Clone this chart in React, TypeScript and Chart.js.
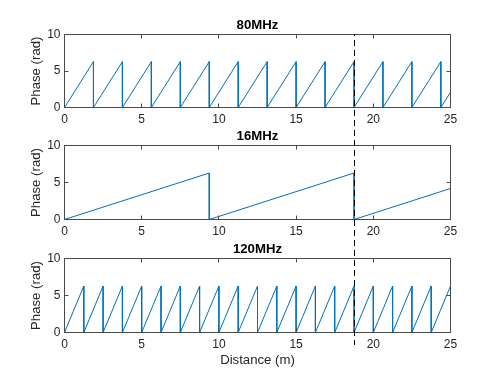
import React, { useEffect, useRef } from "react";
import { Chart, registerables } from "chart.js";

Chart.register(...registerables);

// ---- data ----
const xTicks = [0, 5, 10, 15, 20, 25];
const yTicks = [0, 5, 10];
const xMax = 25;
const peakPhase = 6.28;
const markerDistance = 18.75;

const wraps80 = [1.875, 3.75, 5.625, 7.5, 9.375, 11.25, 13.125, 15, 16.875, 18.75, 20.625, 22.5, 24.375];
const end80 = 2.09;
const wraps16 = [9.375, 18.75];
const end16 = 4.19;
const wraps120 = [1.25, 2.5, 3.75, 5, 6.25, 7.5, 8.75, 10, 11.25, 12.5, 13.75, 15, 16.25, 17.5, 18.75, 20, 21.25, 22.5, 23.75];
const end120 = 6.28;

const titles = ["80MHz", "16MHz", "120MHz"];
const xLabel = "Distance (m)";
const yLabel = "Phase (rad)";

const FONT = '"Liberation Sans", Arial, Helvetica, sans-serif';
const TEXT = "#262626";
const AXIS = "#4a4a4a";
const BLUE = "#0072BD";

function sawtooth(wraps: number[], end: number) {
  const pts: { x: number; y: number }[] = [{ x: 0, y: 0 }];
  wraps.forEach((w) => {
    pts.push({ x: w, y: peakPhase });
    pts.push({ x: w, y: 0 });
  });
  pts.push({ x: xMax, y: end });
  return pts;
}

const panels = [
  { title: titles[0], wraps: wraps80, end: end80, top: 0, height: 127, padTop: 17.66, xHeight: 19.5, showX: false, from: "area", to: 127 },
  { title: titles[1], wraps: wraps16, end: end16, top: 127, height: 112, padTop: 1.66, xHeight: 19.5, showX: false, from: "canvas", to: 112 },
  { title: titles[2], wraps: wraps120, end: end120, top: 239, height: 135, padTop: 2.66, xHeight: 41.5, showX: true, from: "canvas", to: 106 },
];

const matlabAxes = {
  id: "matlabAxes",
  afterDatasetsDraw(chart: any, _args: any, opts: any) {
    const { ctx, chartArea: a, scales } = chart;
    const x = scales.x;
    const y = scales.y;
    const snap = (v: number) => Math.round(v - 0.5) + 0.5;
    const L = 4;
    ctx.save();
    ctx.strokeStyle = AXIS;
    ctx.lineWidth = 1;
    ctx.setLineDash([]);
    ctx.strokeRect(a.left, a.top, a.right - a.left, a.bottom - a.top);
    ctx.beginPath();
    x.ticks.forEach((t: any) => {
      const px = snap(x.getPixelForValue(t.value));
      ctx.moveTo(px, a.bottom);
      ctx.lineTo(px, a.bottom - L);
      ctx.moveTo(px, a.top);
      ctx.lineTo(px, a.top + L);
    });
    y.ticks.forEach((t: any) => {
      const py = snap(y.getPixelForValue(t.value));
      ctx.moveTo(a.left, py);
      ctx.lineTo(a.left + L, py);
      ctx.moveTo(a.right, py);
      ctx.lineTo(a.right - L, py);
    });
    ctx.stroke();

    // dashed marker line
    const mx = snap(x.getPixelForValue(opts.at));
    const y0 = opts.from === "area" ? a.top : 0;
    const y1 = opts.to;
    ctx.beginPath();
    ctx.strokeStyle = "#000";
    ctx.lineWidth = 1;
    ctx.setLineDash([6, 4]);
    ctx.lineDashOffset = opts.offsetTop + y0;
    ctx.moveTo(mx, y0);
    ctx.lineTo(mx, y1);
    ctx.stroke();
    ctx.restore();
  },
};

export default function App() {
  const refs = [useRef<HTMLCanvasElement>(null), useRef<HTMLCanvasElement>(null), useRef<HTMLCanvasElement>(null)];

  useEffect(() => {
    const charts = panels.map((p, i) => {
      const canvas = refs[i].current as HTMLCanvasElement;
      return new Chart(canvas, {
        type: "line",
        data: {
          datasets: [
            {
              data: sawtooth(p.wraps, p.end),
              borderColor: BLUE,
              borderWidth: 1,
              pointRadius: 0,
              tension: 0,
              fill: false,
            },
          ],
        },
        options: {
          responsive: false,
          animation: false,
          devicePixelRatio: 1,
          parsing: false,
          layout: { padding: { left: 0, right: 47.5, top: p.padTop, bottom: 0 } },
          plugins: {
            legend: { display: false },
            tooltip: { enabled: false },
            title: {
              display: true,
              text: p.title,
              fullSize: false,
              color: "#000",
              font: { family: FONT, size: 13.2, weight: "bold" },
              padding: { top: 0, bottom: 1 },
            },
            matlabAxes: { at: markerDistance, from: p.from, to: p.to, offsetTop: p.top },
          } as any,
          scales: {
            x: {
              type: "linear",
              min: 0,
              max: xMax,
              afterBuildTicks: (s: any) => {
                s.ticks = xTicks.map((v) => ({ value: v }));
              },
              grid: { display: false, drawTicks: false },
              border: { display: false },
              ticks: { padding: 4.5, color: TEXT, font: { family: FONT, size: 12 }, maxRotation: 0, autoSkip: false },
              title: {
                display: p.showX,
                text: xLabel,
                color: TEXT,
                font: { family: FONT, size: 13.2 },
                padding: { top: 0, bottom: 6 },
              },
              afterFit: (s: any) => {
                s.height = p.xHeight;
              },
            },
            y: {
              type: "linear",
              min: 0,
              max: 10,
              afterBuildTicks: (s: any) => {
                s.ticks = yTicks.map((v) => ({ value: v }));
              },
              grid: { display: false, drawTicks: false },
              border: { display: false },
              ticks: { padding: 4, color: TEXT, font: { family: FONT, size: 12 } },
              title: {
                display: true,
                text: yLabel,
                color: TEXT,
                font: { family: FONT, size: 13.2 },
                padding: { top: 28, bottom: 0 },
              },
              afterFit: (s: any) => {
                s.width = 64.5;
              },
            },
          },
        },
        plugins: [matlabAxes],
      } as any);
    });
    return () => charts.forEach((c) => c.destroy());
  }, []);

  return (
    <div style={{ position: "fixed", left: 0, top: 0, width: 498, height: 374, background: "#fff" }}>
      {panels.map((p, i) => (
        <canvas
          key={i}
          ref={refs[i]}
          width={498}
          height={p.height}
          style={{ position: "absolute", left: 0, top: p.top, width: 498, height: p.height, display: "block" }}
        />
      ))}
    </div>
  );
}
